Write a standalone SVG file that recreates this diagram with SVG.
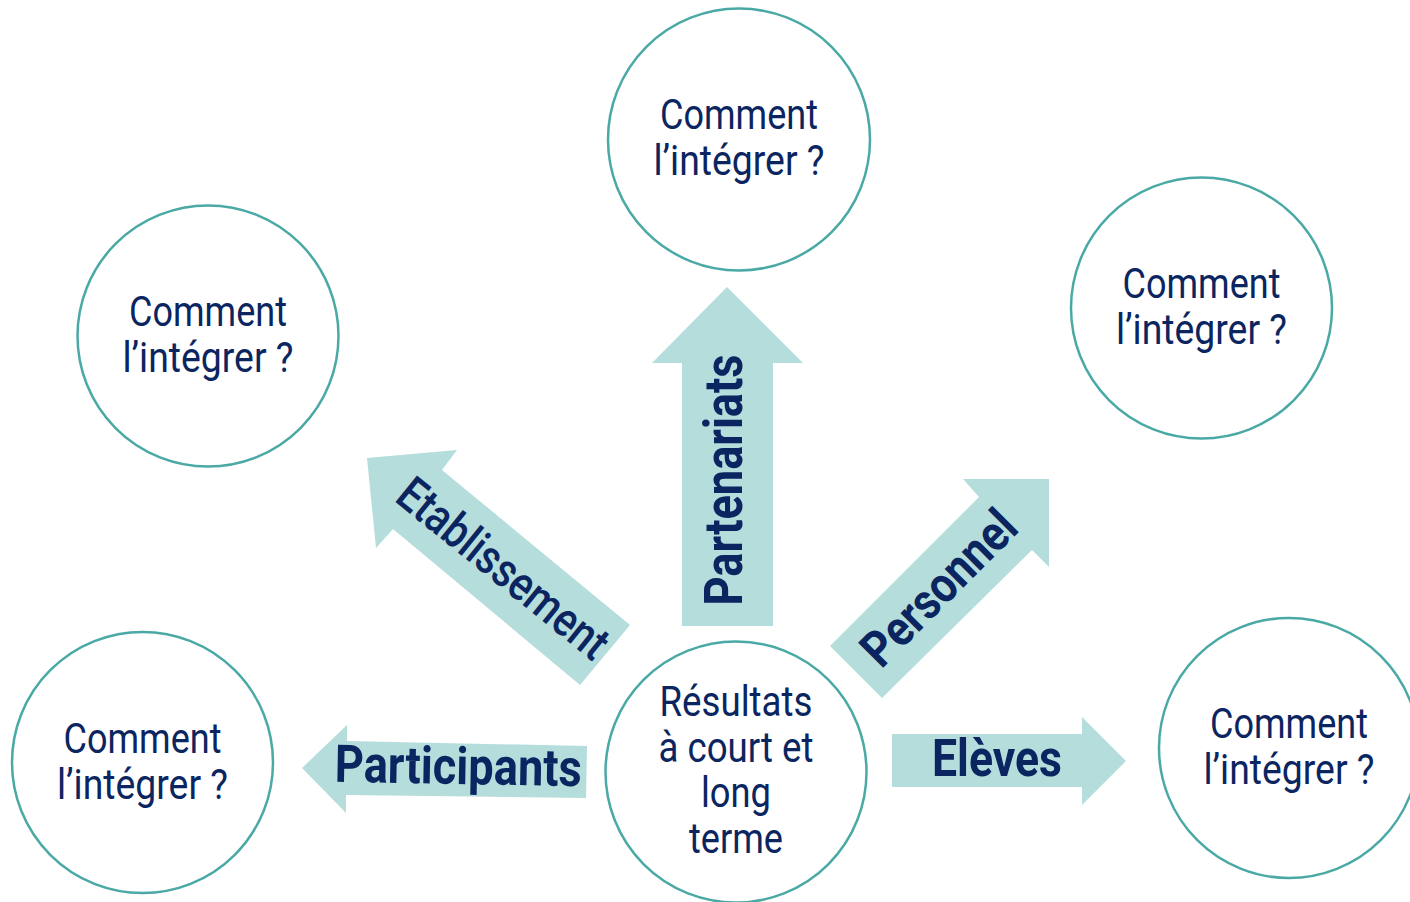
<svg xmlns="http://www.w3.org/2000/svg" width="1410" height="902" viewBox="0 0 1410 902">
<style>
.bg{fill:#ffffff}
.circ{fill:#ffffff;stroke:#4aa9a5;stroke-width:2.5}
.arrow{fill:#b5dddc;stroke:none}
.t{font-family:Roboto,"Liberation Sans",sans-serif;font-size:42px;fill:#0b2560;text-anchor:middle}
.lbl{font-family:Roboto,"Liberation Sans",sans-serif;font-weight:700;fill:#0b2560;text-anchor:middle}
</style>
<rect class="bg" x="0" y="0" width="1410" height="902"/>
<g id="connectors">
  <g id="arrow-partenariats">
    <polygon class="arrow" points="727,287 803,363 773,363 773,626 682,626 682,363 652,363"/>
    <text class="lbl" font-size="54" transform="translate(742,480) rotate(-90)" x="0" y="0" textLength="251" lengthAdjust="spacingAndGlyphs">Partenariats</text>
  </g>
  <g id="arrow-etablissement">
    <polygon class="arrow" points="367,458 457,450 442,470 630,625 580,685 393,529 376,548"/>
    <text class="lbl" font-size="48" font-weight="500" style="font-weight:500" transform="translate(493,581) rotate(39)" x="0" y="0" textLength="257" lengthAdjust="spacingAndGlyphs">Etablissement</text>
  </g>
  <g id="arrow-personnel">
    <polygon class="arrow" points="1049,479 963,479 979,497 830,646 882,698 1032,550 1049,567"/>
    <text class="lbl" font-size="50" transform="translate(951,600) rotate(-45)" x="0" y="0" textLength="197" lengthAdjust="spacingAndGlyphs">Personnel</text>
  </g>
  <g id="arrow-participants">
    <polygon class="arrow" points="302,768 347,725 347,741 587,746 586,798 346,795 346,813"/>
    <text class="lbl" font-size="52" transform="translate(458,784) rotate(1)" x="0" y="0" textLength="247" lengthAdjust="spacingAndGlyphs">Participants</text>
  </g>
  <g id="arrow-eleves">
    <polygon class="arrow" points="892,734 1082,734 1082,717 1126,761 1082,805 1082,787 892,787"/>
    <text class="lbl" font-size="52" x="997" y="776" textLength="130" lengthAdjust="spacingAndGlyphs">Elèves</text>
  </g>
</g>
<g id="node-top">
  <circle class="circ" cx="739" cy="139.5" r="131"/>
  <text class="t" x="739" y="129" textLength="158" lengthAdjust="spacingAndGlyphs">Comment</text>
  <text class="t" x="739" y="175" textLength="171" lengthAdjust="spacingAndGlyphs">l’intégrer ?</text>
</g>
<g id="node-upper-left">
  <circle class="circ" cx="208" cy="336" r="130.5"/>
  <text class="t" x="208" y="326" textLength="158" lengthAdjust="spacingAndGlyphs">Comment</text>
  <text class="t" x="208" y="372" textLength="171" lengthAdjust="spacingAndGlyphs">l’intégrer ?</text>
</g>
<g id="node-upper-right">
  <circle class="circ" cx="1201.5" cy="308" r="130.5"/>
  <text class="t" x="1201.5" y="298" textLength="158" lengthAdjust="spacingAndGlyphs">Comment</text>
  <text class="t" x="1201.5" y="344" textLength="171" lengthAdjust="spacingAndGlyphs">l’intégrer ?</text>
</g>
<g id="node-lower-left">
  <circle class="circ" cx="142.5" cy="762.5" r="130.5"/>
  <text class="t" x="142.5" y="752.5" textLength="158" lengthAdjust="spacingAndGlyphs">Comment</text>
  <text class="t" x="142.5" y="798.5" textLength="171" lengthAdjust="spacingAndGlyphs">l’intégrer ?</text>
</g>
<g id="node-lower-right">
  <circle class="circ" cx="1289" cy="748" r="130"/>
  <text class="t" x="1289" y="738" textLength="158" lengthAdjust="spacingAndGlyphs">Comment</text>
  <text class="t" x="1289" y="784" textLength="171" lengthAdjust="spacingAndGlyphs">l’intégrer ?</text>
</g>
<g id="node-center">
  <circle class="circ" cx="736" cy="772" r="130.5"/>
  <text class="t" x="736" y="716" textLength="153" lengthAdjust="spacingAndGlyphs">Résultats</text>
  <text class="t" x="736" y="761.5" textLength="155" lengthAdjust="spacingAndGlyphs">à court et</text>
  <text class="t" x="736" y="807" textLength="70" lengthAdjust="spacingAndGlyphs">long</text>
  <text class="t" x="736" y="852.5" textLength="94" lengthAdjust="spacingAndGlyphs">terme</text>
</g>
</svg>
